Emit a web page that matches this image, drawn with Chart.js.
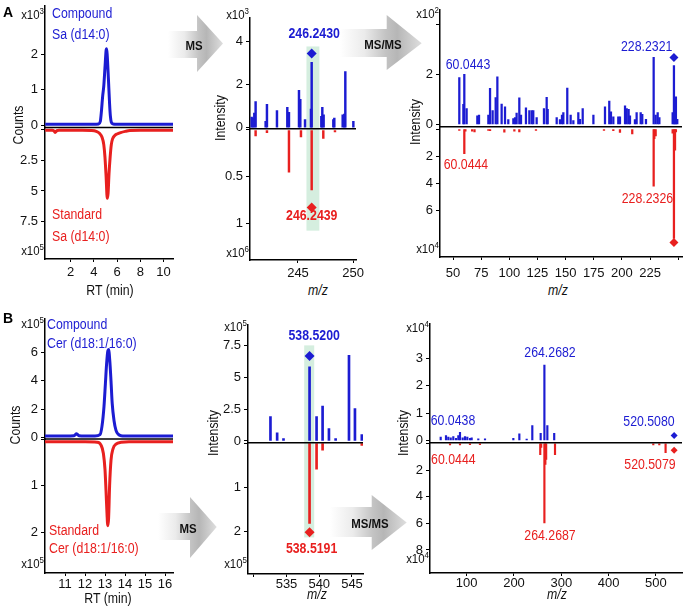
<!DOCTYPE html>
<html>
<head>
<meta charset="utf-8">
<script src="https://cdn.jsdelivr.net/npm/chart.js@4.4.1/dist/chart.umd.min.js"></script>
<style>
  html, body { margin: 0; padding: 0; background: #fff; }
  #fig { position: relative; width: 685px; height: 610px; overflow: hidden;
         font-family: "Liberation Sans", Arial, Helvetica, sans-serif; }
  canvas { position: absolute; }
  svg { position: absolute; left: 0; top: 0; }
  .t { position: absolute; white-space: nowrap; line-height: 1; }
  .t sup { font-size: 9px; vertical-align: 0; position: relative; top: -5px; }
</style>
</head>
<body>
<div id="fig">
  <svg width="685" height="610">
    <defs>
      <linearGradient id="ag" x1="0" y1="0" x2="1" y2="0">
        <stop offset="0" stop-color="#ffffff"/>
        <stop offset="0.3" stop-color="#ebebeb"/>
        <stop offset="0.56" stop-color="#c3c3c3"/>
        <stop offset="0.7" stop-color="#b6b6b6"/>
        <stop offset="1" stop-color="#dedede"/>
      </linearGradient>
    </defs>
    <polygon fill="url(#ag)" points="168,31 197,31 197,15 223,43.5 197,72 197,58 168,58"/>
    <polygon fill="url(#ag)" points="340,29 386.7,29 386.7,15 421.7,43.3 386.7,70 386.7,57 340,57"/>
    <polygon fill="url(#ag)" points="158,513 190,513 190,497 216.7,527 190,558 190,540 158,540"/>
    <polygon fill="url(#ag)" points="330,507 371.7,507 371.7,495 406.7,522.5 371.7,550 371.7,537 330,537"/>
  </svg>
  <canvas id="chromA"></canvas>
  <canvas id="msA"></canvas>
  <canvas id="msmsA"></canvas>
  <canvas id="chromB"></canvas>
  <canvas id="msB"></canvas>
  <canvas id="msmsB"></canvas>
</div>
<script>
// ---------- data ----------
// A, chromatogram Sa (d14:0): compound x10^3 (up), standard x10^5 (down)
const chromA_rt = [-0.2, 1, 2, 3, 4, 4.4, 4.55, 4.65, 4.75, 4.85, 4.95, 5.05, 5.1, 5.15, 5.25, 5.35, 5.42, 5.5, 5.65, 6, 7, 8, 9, 10, 11];
const chromA_cmp = [0.02, 0.02, 0.02, 0.02, 0.02, 0.03, 0.1, 0.4, 0.8, 1.1, 1.6, 2.1, 2.15, 1.95, 1.3, 0.6, 0.25, 0.08, 0.03, 0.02, 0.02, 0.02, 0.02, 0.02, 0.02];
const chromA_stdRt = [-0.2, 0.4, 0.55, 0.65, 0.8, 1, 2, 3, 3.8, 4.2, 4.5, 4.7, 4.85, 4.95, 5.05, 5.15, 5.22, 5.3, 5.4, 5.5, 5.6, 5.8, 6.0, 6.3, 6.7, 7.1, 8, 11];
const chromA_std = [0.02, 0.02, 0.08, 0.2, 0.06, 0.03, 0.03, 0.03, 0.05, 0.12, 0.3, 0.6, 1.2, 2.2, 3.8, 5.6, 5.2, 3.6, 2.2, 1.2, 0.75, 0.45, 0.33, 0.22, 0.12, 0.05, 0.03, 0.03];

// A, MS: compound x10^3, standard x10^6
const msA_mz = [240.79, 240.88, 241.03, 241.15, 242.06, 242.18, 243.09, 244.03, 244.18, 245.09, 245.21, 245.64, 246.18, 246.243, 247.12, 247.21, 247.33, 248.21, 248.30, 249.06, 249.21, 249.30, 250.03];
const msA_cmp = [0.49, 0.45, 0.68, 1.21, 0.3, 1.09, 0.8, 0.95, 0.72, 1.74, 1.32, 0.38, 0.86, 3.03, 0.53, 0.95, 0.6, 0.38, 0.45, 0.6, 0.63, 2.6, 0.3];
const msA_stdMz = [241.15, 242.18, 244.18, 245.27, 246.244, 247.3, 248.36];
const msA_std = [0.063, 0.03, 0.45, 0.073, 0.64, 0.09, 0.02];
const msA_prec = [246.243, 3.44, 0.83];

// A, MS/MS: compound x10^2, standard x10^4
const msmsA_mz = [55.6, 59.2, 60.044, 62.1, 71.6, 73.1, 81.4, 82.9, 85.2, 87.9, 89.4, 93.2, 96.2, 99.1, 103.6, 105.1, 106.5, 108.9, 110.4, 114.8, 117.8, 119.9, 121.3, 124.3, 130.8, 133.2, 134.1, 142.1, 145.0, 146.8, 148.0, 151.5, 154.5, 156.9, 161.3, 162.8, 165.2, 174.7, 185.0, 188.8, 190.3, 192.4, 196.8, 198.3, 202.8, 204.3, 206.0, 207.2, 211.6, 213.1, 216.7, 218.1, 221.4, 228.232, 230.0, 231.8, 233.3, 245.1, 246.243, 247.2, 248.0, 249.2];
const msmsA_cmp = [1.87, 0.8, 2.0, 0.63, 0.34, 0.37, 0.37, 1.44, 0.55, 1.07, 1.9, 0.81, 0.7, 0.19, 0.23, 0.27, 0.45, 1.06, 0.37, 0.66, 0.55, 0.55, 0.55, 0.27, 0.63, 1.08, 0.6, 0.27, 0.19, 0.37, 0.47, 1.45, 0.37, 0.15, 0.47, 0.2, 0.63, 0.37, 0.7, 0.93, 0.5, 0.3, 0.3, 0.3, 0.74, 0.63, 0.6, 0.34, 0.19, 0.47, 0.47, 0.4, 0.2, 2.68, 0.37, 0.47, 0.27, 0.47, 2.35, 0.8, 1.1, 0.2];
const msmsA_stdMz = [55.6, 60.044, 61.0, 67.0, 69.1, 81.4, 82.9, 95.6, 104.5, 108.9, 123.7, 184.1, 192.4, 198.3, 209.2, 228.233, 228.8, 230.0, 245.1, 246.243, 247.2, 248.0];
const msmsA_std = [0.1, 1.81, 0.15, 0.15, 0.2, 0.1, 0.12, 0.23, 0.15, 0.2, 0.1, 0.1, 0.12, 0.25, 0.35, 4.23, 0.7, 0.5, 0.3, 8.1, 1.56, 0.2];
const msmsA_prec = [246.243, 2.67, 8.4];

// B, chromatogram Cer (d18:1/16:0): both x10^5
const chromB_rt = [9.9, 11, 11.45, 11.58, 11.7, 12, 12.5, 12.75, 12.85, 12.95, 13.02, 13.08, 13.14, 13.18, 13.24, 13.3, 13.36, 13.45, 13.55, 13.65, 13.8, 14, 15, 16.5];
const chromB_cmp = [0.1, 0.1, 0.12, 0.26, 0.12, 0.1, 0.1, 0.2, 0.8, 2.2, 3.8, 5.2, 6.1, 6.2, 5.4, 4.0, 2.4, 1.2, 0.5, 0.25, 0.12, 0.1, 0.1, 0.1];
const chromB_stdRt = [9.9, 12, 12.6, 12.8, 12.92, 13.0, 13.05, 13.1, 13.14, 13.18, 13.23, 13.3, 13.4, 13.55, 13.8, 14.2, 16.5];
const chromB_std = [0.05, 0.05, 0.06, 0.12, 0.3, 0.65, 1.1, 1.6, 1.86, 1.7, 1.0, 0.45, 0.2, 0.1, 0.06, 0.05, 0.05];

// B, MS: both x10^5
const msB_mz = [532.55, 533.57, 534.54, 538.52, 539.59, 540.51, 541.48, 542.5, 544.54, 545.45, 546.5];
const msB_cmp = [1.92, 0.64, 0.18, 5.82, 1.92, 2.74, 0.97, 0.18, 6.72, 2.55, 0.5];
const msB_stdMz = [538.519, 539.59, 540.51, 546.5];
const msB_std = [1.82, 0.59, 0.16, 0.05];
const msB_prec = [538.52, 6.66, 2.02];

// B, MS/MS: both x10^4
const msmsB_mz = [45.0, 56.2, 61.1, 66.2, 71.7, 77.4, 82.3, 85.8, 91.5, 96.4, 101.3, 107.0, 110.5, 124.5, 138.7, 198.6, 211.3, 226.8, 238.7, 256.4, 264.268, 270.5, 285.0];
const msmsB_cmp = [0.12, 0.18, 0.12, 0.1, 0.14, 0.08, 0.18, 0.3, 0.1, 0.14, 0.12, 0.08, 0.1, 0.06, 0.06, 0.08, 0.24, 0.05, 0.54, 0.26, 2.76, 0.54, 0.26];
const msmsB_stdMz = [64.7, 85.8, 106.9, 128.0, 255.5, 257.5, 264.269, 266.3, 268.0, 286.7, 494.5, 507.2, 520.508];
const msmsB_std = [0.12, 0.12, 0.1, 0.1, 0.84, 0.3, 5.97, 1.58, 1.2, 0.84, 0.12, 0.12, 0.7];
const msmsB_prec = [538.52, 0.18, 0.52];

// tick values
const ticksChromA = {top: [0, 1, 2], bot: [0, 2.5, 5, 7.5], x: [2, 4, 6, 8, 10]};
const ticksMsA = {top: [0, 2, 4], bot: [0, 0.5, 1], x: [245, 250]};
const ticksMsmsA = {top: [0, 2, 4], bot: [0, 2, 4, 6], x: [50, 75, 100, 125, 150, 175, 200, 225, 250]};
const ticksChromB = {top: [0, 2, 4, 6], bot: [0, 1, 2], x: [11, 12, 13, 14, 15, 16]};
const ticksMsB = {top: [0, 2.5, 5, 7.5], bot: [0, 1, 2], x: [530, 535, 540, 545]};
const ticksMsmsB = {top: [0, 1, 2, 3], bot: [0, 2, 4, 6, 8], x: [100, 200, 300, 400, 500]};

// ---------- drawing ----------
const FONT = '"Liberation Sans", Arial, Helvetica, sans-serif';
const BLUE = '#1c1cd2';
const RED = '#e8201f';
Chart.defaults.font.family = FONT;
Chart.defaults.font.size = 13;
Chart.defaults.color = '#111';

const W = 40, H = 22, PR = 14;

function pts(xs, ys) {
  return xs.map((x, i) => ({x, y: ys[i]}));
}

function yScale(a, ticks, weight, reverse) {
  const hide = a.hide || [];
  return {
    type: 'linear', position: 'left', stack: 'v', stackWeight: weight, reverse,
    min: a.min, max: a.max, stacked: false,
    border: {display: true, color: '#000', width: 1.5},
    grid: {drawOnChartArea: false, drawTicks: true, tickLength: 4, color: '#000', lineWidth: 1},
    ticks: {autoSkip: false, padding: 3, color: '#111', callback: v => hide.includes(v) ? '' : String(v)},
    afterBuildTicks: s => { s.ticks = ticks.map(v => ({value: v})); },
    afterFit: s => { s.width = W; s.paddingTop = 0; s.paddingBottom = 0; }
  };
}

function xScale(a, ticks, pad) {
  const hide = a.hide || [];
  return {
    type: 'linear', min: a.min, max: a.max, offset: false,
    border: {display: true, color: '#000', width: 1.5},
    grid: {drawOnChartArea: false, drawTicks: true, tickLength: 3, color: '#000', lineWidth: 1, offset: false},
    ticks: {autoSkip: false, maxRotation: 0, padding: pad, color: '#111', callback: v => hide.includes(v) ? '' : String(v)},
    afterBuildTicks: s => { s.ticks = ticks.map(v => ({value: v})); },
    afterFit: s => { s.height = H; s.paddingLeft = 0; s.paddingRight = 0; }
  };
}

// midline, highlight band and peak labels
function mirrorPlugin(extra) {
  return {
    id: 'mirror',
    beforeDatasetsDraw(chart) {
      const {ctx, scales} = chart;
      const b = extra.band;
      if (!b) return;
      const x0 = scales.x.getPixelForValue(b.x0);
      const x1 = scales.x.getPixelForValue(b.x1);
      const y0 = scales.yTop.getPixelForValue(b.top);
      const y1 = scales.yBot.getPixelForValue(b.bottom);
      ctx.save();
      ctx.fillStyle = '#d5eedf';
      ctx.fillRect(x0, y0, x1 - x0, y1 - y0);
      ctx.restore();
    },
    afterDatasetsDraw(chart) {
      const {ctx, chartArea: a, scales} = chart;
      const y = scales.yTop.bottom;
      ctx.save();
      ctx.strokeStyle = '#000';
      ctx.lineWidth = 1.5;
      ctx.beginPath();
      ctx.moveTo(a.left, y);
      ctx.lineTo(a.right, y);
      ctx.stroke();
      (extra.notes || []).forEach(n => {
        const px = scales.x.getPixelForValue(n.x);
        const py = scales[n.axis].getPixelForValue(n.y);
        ctx.save();
        ctx.translate(px, py);
        ctx.scale(0.88, 1);
        ctx.font = (n.bold ? 'bold ' : '') + '14px ' + FONT;
        ctx.fillStyle = n.axis === 'yTop' ? BLUE : RED;
        ctx.textAlign = 'center';
        ctx.textBaseline = 'middle';
        ctx.fillText(n.text, 0, 0);
        ctx.restore();
      });
      ctx.restore();
    }
  };
}

function mirrorChart(id, type, g, ticks, datasets, extra) {
  const cv = document.getElementById(id);
  const left = g.L - W;
  const w = g.R - left + PR;
  const h = g.B - g.T + H;
  cv.style.left = left + 'px';
  cv.style.top = g.T + 'px';
  cv.style.width = w + 'px';
  cv.style.height = h + 'px';
  cv.width = w;
  cv.height = h;
  return new Chart(cv, {
    type,
    data: {datasets},
    options: {
      responsive: false, animation: false, events: [],
      layout: {padding: {left: 0, top: 0, right: PR, bottom: 0}},
      scales: {
        yBot: yScale(g.bot, ticks.bot, g.B - g.div, true),
        yTop: yScale(g.top, ticks.top, g.div - g.T, false),
        x: xScale(g.x, ticks.x, g.xpad)
      },
      plugins: {legend: {display: false}, tooltip: {enabled: false}}
    },
    plugins: [mirrorPlugin(extra || {})]
  });
}

function trace(xs, ys, color, axis) {
  return {type: 'line', data: pts(xs, ys), borderColor: color, borderWidth: 3, pointRadius: 0,
    cubicInterpolationMode: 'monotone', yAxisID: axis};
}
function sticks(xs, ys, color, axis, w) {
  return {type: 'bar', data: pts(xs, ys), backgroundColor: color, barThickness: w || 1.6,
    maxBarThickness: w || 1.6, grouped: true, stack: 's', yAxisID: axis};
}
function diamonds(p, r) {
  return [
    {type: 'scatter', data: [{x: p[0], y: p[1]}], pointStyle: 'rectRot', pointRadius: r,
      backgroundColor: BLUE, borderWidth: 0, yAxisID: 'yTop'},
    {type: 'scatter', data: [{x: p[0], y: p[2]}], pointStyle: 'rectRot', pointRadius: r,
      backgroundColor: RED, borderWidth: 0, yAxisID: 'yBot'}
  ];
}

mirrorChart('chromA', 'line',
  {L: 45, T: 5, R: 173, B: 259, div: 127.5, xpad: 3,
   top: {min: -0.07, max: 3.38}, bot: {min: -0.2, max: 10.57, hide: [0]}, x: {min: -0.22, max: 10.82}},
  ticksChromA,
  [trace(chromA_rt, chromA_cmp, BLUE, 'yTop'), trace(chromA_stdRt, chromA_std, RED, 'yBot')]);

mirrorChart('msA', 'bar',
  {L: 250, T: 13, R: 356, B: 260, div: 126, xpad: 2.5,
   top: {min: -0.045, max: 5.09}, bot: {min: -0.0136, max: 1.391, hide: [0]}, x: {min: 240.64, max: 250.27}},
  ticksMsA,
  [sticks(msA_mz, msA_cmp, BLUE, 'yTop', 1.8), sticks(msA_stdMz, msA_std, RED, 'yBot', 1.8), ...diamonds(msA_prec, 5)],
  {band: {x0: 245.77, x1: 246.94, top: 3.77, bottom: 1.077},
   notes: [{x: 246.47, y: 4.36, axis: 'yTop', text: '246.2430', bold: true},
           {x: 246.25, y: 0.919, axis: 'yBot', text: '246.2439', bold: true}]});

mirrorChart('msmsA', 'bar',
  {L: 440, T: 5, R: 682, B: 257, div: 124.5, xpad: 5.5,
   top: {min: -0.098, max: 4.59, hide: [4]}, bot: {min: -0.167, max: 9.47, hide: [0]}, x: {min: 38.45, max: 253.4, hide: [250]}},
  ticksMsmsA,
  [sticks(msmsA_mz, msmsA_cmp, BLUE, 'yTop'), sticks(msmsA_stdMz, msmsA_std, RED, 'yBot'), ...diamonds(msmsA_prec, 4.5)],
  {notes: [{x: 63.3, y: 2.35, axis: 'yTop', text: '60.0443'},
           {x: 222.0, y: 3.09, axis: 'yTop', text: '228.2321'},
           {x: 61.5, y: 2.65, axis: 'yBot', text: '60.0444'},
           {x: 222.7, y: 5.2, axis: 'yBot', text: '228.2326'}]});

mirrorChart('chromB', 'line',
  {L: 45, T: 318, R: 173, B: 573, div: 439, xpad: 1,
   top: {min: -0.106, max: 8.43}, bot: {min: -0.011, max: 2.88, hide: [0]}, x: {min: 10.0, max: 16.4}},
  ticksChromB,
  [trace(chromB_rt, chromB_cmp, BLUE, 'yTop'), trace(chromB_stdRt, chromB_std, RED, 'yBot')]);

mirrorChart('msB', 'bar',
  {L: 248, T: 320, R: 363, B: 574, div: 440, xpad: 0,
   top: {min: -0.13, max: 9.1}, bot: {min: -0.011, max: 2.97, hide: [0]}, x: {min: 529.12, max: 546.68, hide: [530]}},
  ticksMsB,
  [sticks(msB_mz, msB_cmp, BLUE, 'yTop', 2), sticks(msB_stdMz, msB_std, RED, 'yBot', 2), ...diamonds(msB_prec, 5)],
  {band: {x0: 537.7, x1: 539.23, top: 7.5, bottom: 2.14},
   notes: [{x: 539.23, y: 8.2, axis: 'yTop', text: '538.5200', bold: true},
           {x: 538.83, y: 2.4, axis: 'yBot', text: '538.5191', bold: true}]});

mirrorChart('msmsB', 'bar',
  {L: 430, T: 320, R: 682, B: 573, div: 440.7, xpad: 0,
   top: {min: -0.086, max: 4.26}, bot: {min: -0.044, max: 9.73, hide: [0]}, x: {min: 22.4, max: 555.2}},
  ticksMsmsB,
  [sticks(msmsB_mz, msmsB_cmp, BLUE, 'yTop', 1.5), sticks(msmsB_stdMz, msmsB_std, RED, 'yBot', 1.5), ...diamonds(msmsB_prec, 3.5)],
  {notes: [{x: 71.0, y: 0.72, axis: 'yTop', text: '60.0438'},
           {x: 276.1, y: 3.2, axis: 'yTop', text: '264.2682'},
           {x: 485.4, y: 0.68, axis: 'yTop', text: '520.5080'},
           {x: 71.7, y: 1.26, axis: 'yBot', text: '60.0444'},
           {x: 276.1, y: 6.94, axis: 'yBot', text: '264.2687'},
           {x: 487.5, y: 1.63, axis: 'yBot', text: '520.5079'}]});

// ---------- text around the plots ----------
const fig = document.getElementById('fig');
function addText(html, x, y, o) {
  const d = document.createElement('div');
  d.className = 't';
  d.innerHTML = html;
  d.style.left = x + 'px';
  d.style.top = y + 'px';
  d.style.fontSize = (o.size || 14) + 'px';
  d.style.color = o.color || '#111';
  if (o.bold) d.style.fontWeight = 'bold';
  if (o.italic) d.style.fontStyle = 'italic';
  let tr;
  if (o.anchor === 'center') { tr = 'translate(-50%,-50%)'; d.style.transformOrigin = '50% 50%'; }
  else if (o.anchor === 'right') { tr = 'translate(-100%,-50%)'; d.style.transformOrigin = '100% 50%'; }
  else { tr = 'translate(0,-50%)'; d.style.transformOrigin = '0 50%'; }
  if (o.rot) tr += ' rotate(-90deg)';
  if (!o.wide) tr += ' scaleX(0.88)';
  d.style.transform = tr;
  fig.appendChild(d);
}

addText('A', 3, 12, {bold: true, size: 14, color: '#000', wide: true});
addText('B', 3, 318, {bold: true, size: 14, color: '#000', wide: true});

addText('Compound', 52, 13, {color: BLUE});
addText('Sa (d14:0)', 52, 34, {color: BLUE});
addText('Standard', 52, 214, {color: RED});
addText('Sa (d14:0)', 52, 236, {color: RED});
addText('Compound', 47, 324, {color: BLUE});
addText('Cer (d18:1/16:0)', 47, 343, {color: BLUE});
addText('Standard', 49, 530, {color: RED});
addText('Cer (d18:1/16:0)', 49, 548, {color: RED});

addText('Counts', 18, 125, {anchor: 'center', rot: true});
addText('Counts', 15, 425, {anchor: 'center', rot: true});
addText('Intensity', 220, 118, {anchor: 'center', rot: true});
addText('Intensity', 415, 122, {anchor: 'center', rot: true});
addText('Intensity', 213, 433, {anchor: 'center', rot: true});
addText('Intensity', 403, 433, {anchor: 'center', rot: true});

addText('RT (min)', 110, 290, {anchor: 'center'});
addText('RT (min)', 108, 598, {anchor: 'center'});
addText('m/z', 318, 290, {anchor: 'center', italic: true});
addText('m/z', 558, 290, {anchor: 'center', italic: true});
addText('m/z', 317, 594, {anchor: 'center', italic: true});
addText('m/z', 557, 594, {anchor: 'center', italic: true});

[[45, 14, 3], [45, 250, 5], [250, 14, 3], [250, 252, 6], [440, 13, 2], [440, 248, 4],
 [45, 323, 5], [45, 563, 5], [248, 326, 5], [248, 563, 5], [430, 327, 4], [430, 558, 4]]
  .forEach(e => addText('x10<sup>' + e[2] + '</sup>', e[0] - 1, e[1], {anchor: 'right', size: 13}));

addText('MS', 194, 45, {anchor: 'center', bold: true, size: 13, color: '#111'});
addText('MS/MS', 383, 44, {anchor: 'center', bold: true, size: 13, color: '#111'});
addText('MS', 188, 528, {anchor: 'center', bold: true, size: 13, color: '#111'});
addText('MS/MS', 370, 523, {anchor: 'center', bold: true, size: 13, color: '#111'});
</script>
</body>
</html>
